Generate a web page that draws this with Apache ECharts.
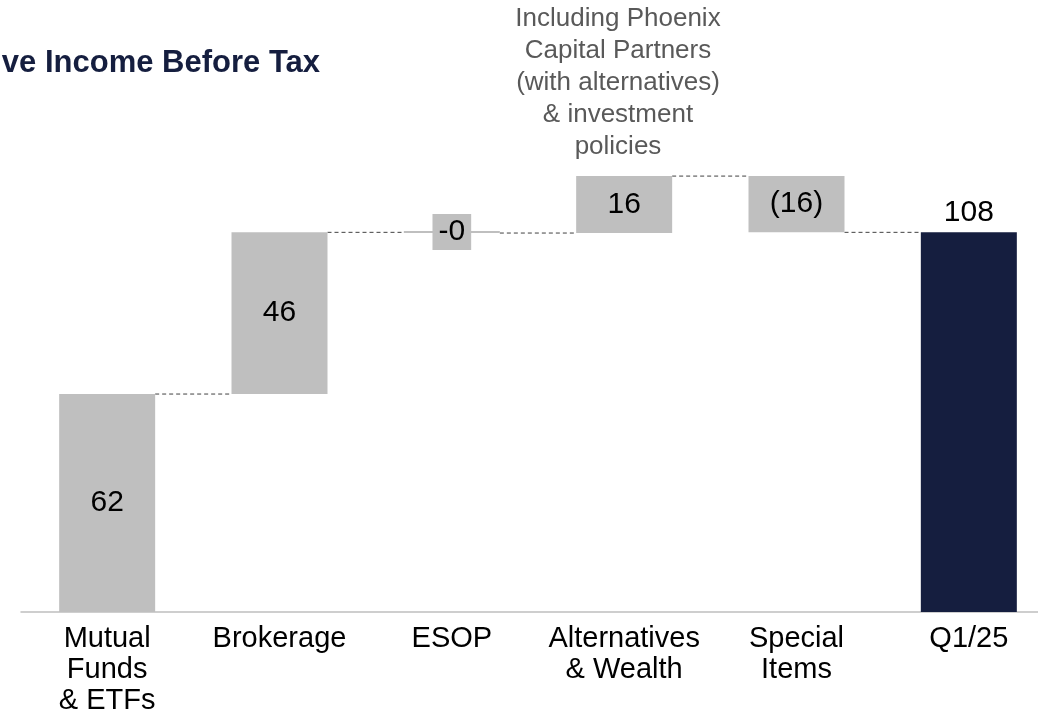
<!DOCTYPE html>
<html>
<head>
<meta charset="utf-8">
<style>
  html, body { margin: 0; padding: 0; background: #ffffff; overflow: hidden; }
  #chart { width: 1064px; height: 716px; }
</style>
<script src="https://cdn.jsdelivr.net/npm/echarts@6/dist/echarts.min.js"></script>
</head>
<body>
<div id="chart"></div>
<script>
// Waterfall: contributions to income before tax, ending in the quarter total
const categories = ['Mutual\nFunds\n& ETFs', 'Brokerage', 'ESOP', 'Alternatives\n& Wealth', 'Special\nItems', 'Q1/25'];
const deltas = [62, 46, -0.2, 16.2, -16];   // step contributions
const totalValue = 108;                      // closing bar
const titleText = 'Comprehensive Income Before Tax';
const noteLines = ['Including Phoenix', 'Capital Partners', '(with alternatives)', '& investment', 'policies'];

const GREY = '#bfbfbf';
const NAVY = '#151e3f';
const FONT = '"Liberation Sans", Arial, sans-serif';

// Build invisible bases, visible heights and connector levels
const baseData = [];
const stepData = [];
const connectors = [];
let running = 0;
deltas.forEach((d, i) => {
  const base = d >= 0 ? running : running + d;
  baseData.push(base);
  const item = { value: Math.abs(d), delta: d, itemStyle: { color: GREY } };
  if (Math.abs(d) < 0.5) {
    item.label = {
      position: 'inside',
      backgroundColor: GREY,
      padding: [3, 6]
    };
  }
  stepData.push(item);
  running += d;
  connectors.push([i, running]);
});
baseData.push(0);
stepData.push({
  value: totalValue,
  delta: totalValue,
  itemStyle: { color: NAVY },
  label: { position: 'top', distance: 5 }
});

function fmt(d) {
  if (d >= 0) return String(Math.round(d));
  const r = Math.round(-d);
  return r === 0 ? '-0' : '(' + r + ')';
}

const BAR_W = 96;

const chart = echarts.init(document.getElementById('chart'), null, { renderer: 'canvas' });
chart.setOption({
  animation: false,
  backgroundColor: '#ffffff',
  grid: { left: 21, width: 1034, top: 155, height: 458 },
  xAxis: {
    type: 'category',
    data: categories,
    axisLine: { lineStyle: { color: GREY, width: 1.5 } },
    axisTick: { show: false },
    axisLabel: {
      color: '#000000',
      fontFamily: FONT,
      fontSize: 29,
      lineHeight: 31,
      margin: 11,
      interval: 0
    }
  },
  yAxis: { type: 'value', min: 0, max: 130, show: false },
  graphic: [
    {
      type: 'text',
      x: 320,
      y: 63,
      style: {
        text: titleText,
        fill: NAVY,
        font: 'bold 31px ' + FONT,
        textAlign: 'right',
        textVerticalAlign: 'middle'
      }
    },
    {
      type: 'text',
      x: 618,
      y: 3,
      style: {
        text: noteLines.join('\n'),
        fill: '#595959',
        font: '26px ' + FONT,
        lineHeight: 32,
        textAlign: 'center',
        textVerticalAlign: 'top'
      }
    }
  ],
  series: [
    {
      type: 'bar',
      stack: 'wf',
      barWidth: BAR_W,
      data: baseData,
      itemStyle: { color: 'transparent' },
      emphasis: { disabled: true },
      silent: true
    },
    {
      type: 'bar',
      stack: 'wf',
      barWidth: BAR_W,
      barMinHeight: 2,
      data: stepData,
      label: {
        show: true,
        position: 'inside',
        color: '#000000',
        fontFamily: FONT,
        fontSize: 30,
        lineHeight: 30,
        formatter: p => fmt(p.data.delta)
      },
      emphasis: { disabled: true }
    },
    {
      type: 'custom',
      data: connectors,
      silent: true,
      z: 1,
      renderItem: (params, api) => {
        const p = api.coord([api.value(0), api.value(1)]);
        const step = api.size([1, 0])[0];
        return {
          type: 'line',
          shape: { x1: p[0] + BAR_W / 2, y1: p[1], x2: p[0] + step - BAR_W / 2, y2: p[1] },
          style: { stroke: '#404040', lineWidth: 1, lineDash: [4, 3] }
        };
      }
    }
  ]
});
</script>
</body>
</html>
